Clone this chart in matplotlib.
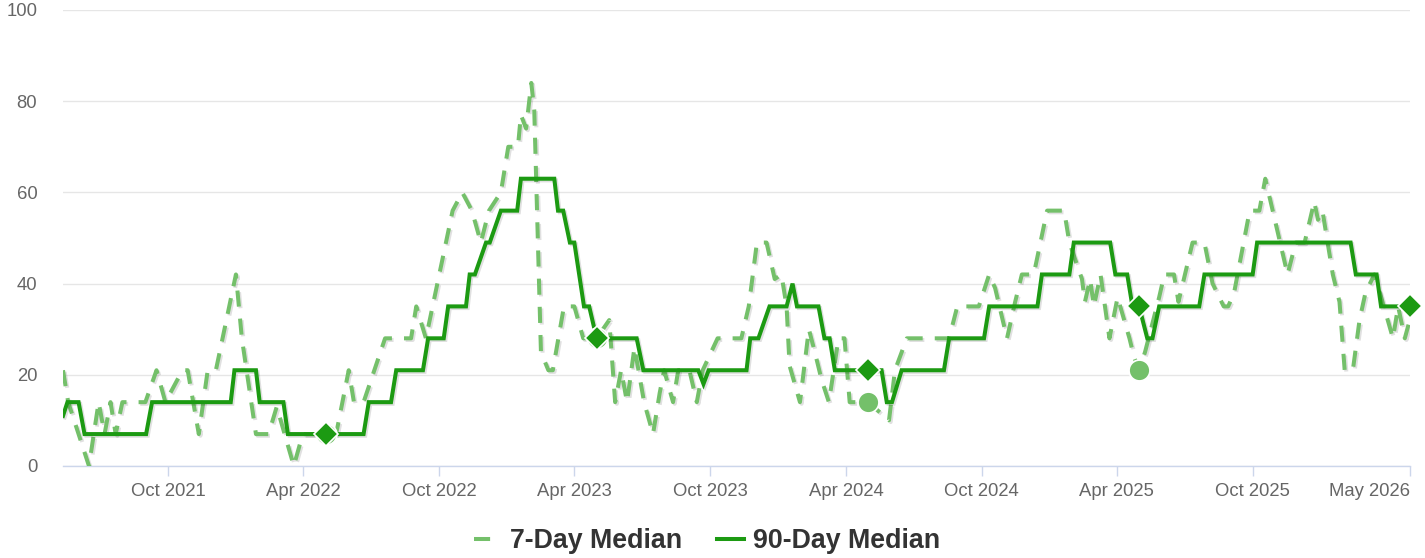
import matplotlib
matplotlib.use("Agg")
import matplotlib.pyplot as plt
import matplotlib.patheffects as pe
from matplotlib.lines import Line2D
import pandas as pd

plt.rcParams['font.family'] = ['Liberation Sans', 'DejaVu Sans']

# 7-day median (turning points)
d7_dates = ['2021-05-12', '2021-05-19', '2021-06-02', '2021-06-16', '2021-06-29', '2021-07-07',
            '2021-07-15', '2021-07-22', '2021-07-31', '2021-08-31', '2021-09-15', '2021-09-27',
            '2021-10-20', '2021-10-27', '2021-11-11', '2021-11-23', '2021-12-04', '2021-12-31',
            '2022-01-08', '2022-01-27', '2022-02-13', '2022-02-24', '2022-03-19', '2022-03-31',
            '2022-05-01', '2022-05-15', '2022-06-01', '2022-06-08', '2022-06-21', '2022-07-20',
            '2022-08-24', '2022-08-31', '2022-09-13', '2022-09-22', '2022-10-19', '2022-11-01',
            '2022-11-14', '2022-11-26', '2022-12-07', '2022-12-23', '2023-01-02', '2023-01-15',
            '2023-01-19', '2023-01-26', '2023-02-02', '2023-02-06', '2023-02-15', '2023-02-25',
            '2023-03-03', '2023-03-18', '2023-04-01', '2023-04-13', '2023-05-01', '2023-05-18',
            '2023-05-26', '2023-06-03', '2023-06-11', '2023-06-21', '2023-07-04', '2023-07-16',
            '2023-07-25', '2023-07-31', '2023-08-12', '2023-08-19', '2023-09-03', '2023-09-13',
            '2023-09-21', '2023-10-11', '2023-11-12', '2023-11-22', '2023-12-03', '2023-12-16',
            '2023-12-27', '2024-01-05', '2024-01-12', '2024-01-16', '2024-01-30', '2024-02-11',
            '2024-02-19', '2024-02-28', '2024-03-09', '2024-03-22', '2024-03-30', '2024-04-06',
            '2024-05-01', '2024-05-29', '2024-06-06', '2024-06-22', '2024-08-18', '2024-08-29',
            '2024-09-27', '2024-10-11', '2024-10-19', '2024-11-04', '2024-11-15', '2024-11-24',
            '2024-12-10', '2024-12-28', '2025-01-20', '2025-01-27', '2025-02-13', '2025-02-17',
            '2025-02-24', '2025-03-01', '2025-03-10', '2025-03-22', '2025-04-02', '2025-04-18',
            '2025-04-24', '2025-05-01', '2025-05-09', '2025-05-28', '2025-06-04', '2025-06-17',
            '2025-06-23', '2025-07-12', '2025-07-28', '2025-08-08', '2025-08-23', '2025-08-29',
            '2025-09-06', '2025-09-27', '2025-10-10', '2025-10-18', '2025-10-28', '2025-11-17',
            '2025-11-28', '2025-12-10', '2025-12-23', '2025-12-28', '2026-01-03', '2026-01-17',
            '2026-01-26', '2026-02-02', '2026-02-13', '2026-02-22', '2026-03-02', '2026-03-14',
            '2026-03-25', '2026-04-08', '2026-04-15', '2026-04-24', '2026-04-29']
d7_vals = [21, 14, 7, 0, 14, 7,
           14, 7, 14, 14, 21, 14,
           21, 21, 7, 21, 21, 42,
           28, 7, 7, 13, 0, 7,
           7, 7, 21, 14, 14, 28,
           28, 35, 28, 35, 56, 60,
           56, 49, 56, 60, 70, 70,
           77, 74, 84, 78, 25, 21,
           21, 35, 35, 28, 28, 32,
           14, 21, 14, 26, 14, 7,
           16, 21, 14, 21, 21, 14,
           21, 28, 28, 35, 49, 49,
           41, 42, 35, 22, 14, 30,
           25, 19, 14, 28, 28, 14,
           14, 10, 21, 28, 28, 35,
           35, 42, 39, 28, 36, 42,
           42, 56, 56, 49, 41, 36,
           41, 35, 42, 28, 37, 28,
           24, 21, 25, 37, 42, 42,
           36, 49, 49, 40, 35, 35,
           38, 56, 56, 63, 56, 42,
           49, 49, 58, 54, 56, 42,
           36, 21, 21, 32, 38, 42,
           36, 28, 35, 28, 31]

# 90-day median
d90_dates = ['2021-05-12', '2021-05-18', '2021-06-02', '2021-06-10', '2021-09-01', '2021-09-09',
             '2021-12-24', '2021-12-29', '2022-01-27', '2022-02-01', '2022-03-05', '2022-03-11',
             '2022-06-21', '2022-06-28', '2022-07-28', '2022-08-04', '2022-09-09', '2022-09-16',
             '2022-10-07', '2022-10-13', '2022-11-06', '2022-11-11', '2022-11-18', '2022-12-03',
             '2022-12-08', '2022-12-23', '2023-01-14', '2023-01-19', '2023-03-05', '2023-03-10',
             '2023-03-17', '2023-03-26', '2023-04-01', '2023-04-14', '2023-04-21', '2023-05-01',
             '2023-06-24', '2023-07-03', '2023-09-15', '2023-09-22', '2023-09-29', '2023-11-19',
             '2023-11-24', '2023-12-05', '2023-12-20', '2024-01-12', '2024-01-20', '2024-01-26',
             '2024-02-24', '2024-03-03', '2024-03-10', '2024-03-17', '2024-05-19', '2024-05-26',
             '2024-06-02', '2024-06-15', '2024-08-11', '2024-08-18', '2024-10-04', '2024-10-11',
             '2024-12-15', '2024-12-21', '2025-01-27', '2025-02-02', '2025-03-23', '2025-03-30',
             '2025-04-15', '2025-04-22', '2025-05-01', '2025-05-12', '2025-05-19', '2025-05-28',
             '2025-07-21', '2025-07-28', '2025-10-01', '2025-10-07', '2026-02-10', '2026-02-17',
             '2026-03-17', '2026-03-23', '2026-05-01']
d90_vals = [11, 14, 14, 7, 7, 14,
            14, 21, 21, 14, 14, 7,
            7, 14, 14, 21, 21, 28,
            28, 35, 35, 42, 42, 49,
            49, 56, 56, 63, 63, 56,
            56, 49, 49, 35, 35, 28,
            28, 21, 21, 18, 21, 21,
            28, 28, 35, 35, 40, 35,
            35, 28, 28, 21, 21, 14,
            14, 21, 21, 28, 28, 35,
            35, 42, 42, 49, 49, 42,
            42, 35, 35, 28, 28, 35,
            35, 42, 42, 49, 49, 42,
            42, 35, 35]

# yearly highlighted points
mark_dates = ['2022-05-01', '2023-05-01', '2024-05-01', '2025-05-01', '2026-05-01']
mark_d90 = [7, 28, 21, 35, 35]
mark_d7 = [7, 28, 14, 21]

tick_dates = ['2021-10-01', '2022-04-01', '2022-10-01', '2023-04-01', '2023-10-01',
              '2024-04-01', '2024-10-01', '2025-04-01', '2025-10-01', '2026-05-01']
tick_labels = ['Oct 2021', 'Apr 2022', 'Oct 2022', 'Apr 2023', 'Oct 2023',
               'Apr 2024', 'Oct 2024', 'Apr 2025', 'Oct 2025', 'May 2026']

light = '#74c06a'
dark = '#1c9a12'

fig = plt.figure(figsize=(14.25, 5.58), dpi=100)
ax = fig.add_axes([63 / 1425, 1 - 466 / 558, 1347 / 1425, 456 / 558])

shadow = [pe.SimpleLineShadow(offset=(1.2, -1.2), shadow_color='k', alpha=0.12), pe.Normal()]

ax.plot(pd.to_datetime(d7_dates), d7_vals, color=light, lw=2.9, dashes=(4, 3),
        path_effects=shadow, zorder=3)
ax.plot(pd.to_datetime(d90_dates), d90_vals, color=dark, lw=2.9,
        solid_joinstyle='miter', path_effects=shadow, zorder=4)

ax.plot(pd.to_datetime(mark_dates[:len(mark_d7)]), mark_d7, 'o', ms=15, color=light,
        mec='white', mew=1.2, zorder=5)
ax.plot(pd.to_datetime(mark_dates), mark_d90, 'D', ms=12.5, color=dark,
        mec='white', mew=1.2, zorder=6, clip_on=False)

ax.set_xlim(pd.Timestamp('2021-05-12'), pd.Timestamp('2026-05-01'))
ax.set_ylim(0, 100)
ax.set_yticks(range(0, 101, 20))
ax.grid(axis='y', color='#e6e6e6', lw=1)
ax.set_axisbelow(True)

ax.set_xticks(pd.to_datetime(tick_dates))
ax.set_xticklabels(tick_labels)
labels = ax.get_xticklabels()
labels[-1].set_horizontalalignment('right')

for s in ['top', 'right', 'left']:
    ax.spines[s].set_visible(False)
ax.spines['bottom'].set_color('#ccd6eb')
ax.spines['bottom'].set_linewidth(1)
ax.tick_params(axis='x', colors='#ccd6eb', length=7.2, width=1, labelcolor='#666666',
               labelsize=13.3, pad=5)
ax.tick_params(axis='y', length=0, labelcolor='#666666', labelsize=13.3, pad=18.5)

handles = [Line2D([], [], color=light, lw=2.9, dashes=(4, 3)),
           Line2D([], [], color=dark, lw=2.9)]
fig.legend(handles, ['7-Day Median', '90-Day Median'], loc='center',
           bbox_to_anchor=(707 / 1425, 1 - 541 / 558), ncol=2, frameon=False,
           prop={'weight': 'bold', 'size': 19.3}, labelcolor='#333333',
           handlelength=1.0, handletextpad=0.35, columnspacing=1.3)

fig.savefig('out.png', dpi=100)
